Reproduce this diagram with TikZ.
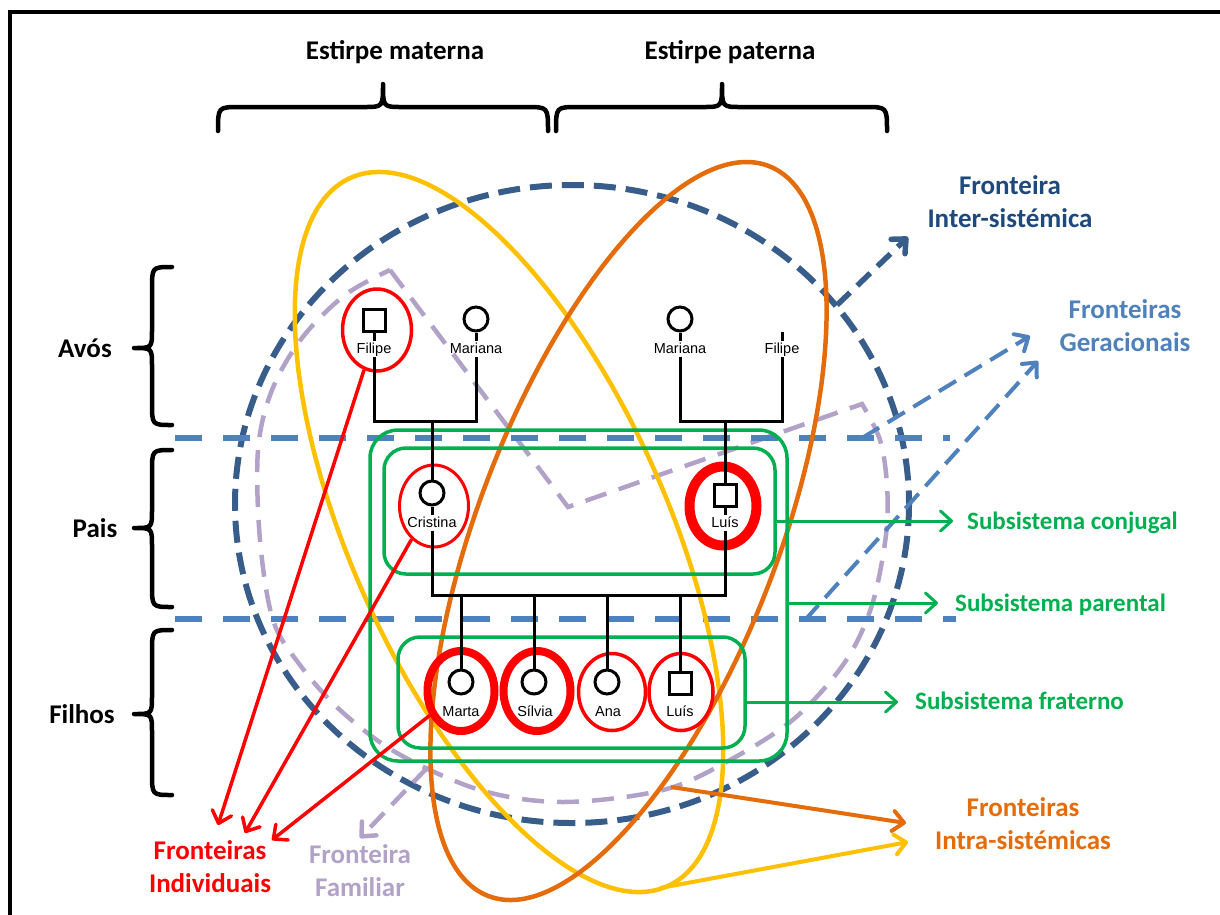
\documentclass[tikz,border=0pt]{standalone}
\usepackage{fontspec}
\setmainfont{Carlito}
\newfontfamily\arialf{Liberation Sans}
\usetikzlibrary{arrows.meta,shapes.geometric}
\definecolor{cyel}{RGB}{255,192,0}
\definecolor{cora}{RGB}{228,108,10}
\definecolor{cdb}{RGB}{56,93,138}
\definecolor{cgen}{RGB}{79,129,189}
\definecolor{clav}{RGB}{179,162,199}
\definecolor{cgrn}{RGB}{0,176,80}
\definecolor{cred}{RGB}{255,0,0}
\definecolor{cinter}{RGB}{31,73,125}
\tikzset{
  lab/.style={font=\bfseries\fontsize{27}{33}\selectfont, align=center, inner sep=0pt},
  glab/.style={font=\bfseries\fontsize{25}{30}\selectfont, text=cgrn, inner sep=0pt, anchor=base west},
  bracepath/.style={line width=4.5, line cap=round, line join=round},
  nm/.style={font=\arialf\fontsize{14.5}{16}\selectfont, inner sep=1pt, text height=10.5pt, text depth=2.5pt},
  fem/.style={circle, draw, line width=3, minimum size=24pt, inner sep=0pt},
  male/.style={rectangle, draw, line width=3, minimum size=22pt, inner sep=0pt},
  gl/.style={line width=3, black},
  gbox/.style={draw=cgrn, line width=3.5, inner sep=0pt},
  rell/.style={ellipse, draw=cred, inner sep=0pt},
  tip/.style={-{Straight Barb[length=11pt,width=20pt,round]}},
  genl/.style={cgen, line width=6, dash pattern=on 27pt off 21pt},
}
\begin{document}
\begin{tikzpicture}[x=1pt,y=-1pt]
\useasboundingbox (0,0) rectangle (1220,914);
% frame
\draw[line width=3.5] (10,940) -- (10,12) -- (1250,12);

% braces
\draw[bracepath] (218,131) .. controls (218,107) .. (240,107) -- (364,107) .. controls (383,107) .. (383,84) .. controls (383,107) .. (402,107) -- (526,107) .. controls (548,107) .. (548,131);
\draw[bracepath] (556,131) .. controls (556,107) .. (578,107) -- (703,107) .. controls (722,107) .. (722,84) .. controls (722,107) .. (741,107) -- (865,107) .. controls (887,107) .. (887,131);
\draw[bracepath] (172,267) .. controls (152,267) .. (152,289) -- (152,330) .. controls (152,348) .. (134,348) .. controls (152,348) .. (152,366) -- (152,403) .. controls (152,425) .. (172,425);
\draw[bracepath] (172,450) .. controls (152,450) .. (152,472) -- (152,510) .. controls (152,528) .. (134,528) .. controls (152,528) .. (152,546) -- (152,585) .. controls (152,607) .. (172,607);
\draw[bracepath] (172,630) .. controls (152,630) .. (152,652) -- (152,696) .. controls (152,714) .. (134,714) .. controls (152,714) .. (152,732) -- (152,773) .. controls (152,795) .. (172,795);

\node[lab, anchor=base] (em) at (395,59) {Estirpe materna};
\node[lab, anchor=base] (ep) at (730,59) {Estirpe paterna};
\node[lab, anchor=base] (avos) at (85,357) {Avós};
\node[lab, anchor=base] (pais) at (95,537) {Pais};
\node[lab, anchor=base] (filhos) at (82,723) {Filhos};

% inter-systemic boundary
\draw[cdb, line width=6, dash pattern=on 22pt off 10pt] (572,504) ellipse [x radius=337, y radius=319];

% family boundary
\draw[clav, line width=4.5, dash pattern=on 22pt off 13pt] (390,270) -- (568,507) -- (862,404) -- plot[smooth, tension=0.55] coordinates {(862,404) (880,440) (887,485) (886,535) (872,605) (845,662) (795,718) (730,760) (663,790) (563,802) (480,790) (397,753) (340,710) (300,665) (273,620) (260,540) (258,450) (272,390) (302,338) (345,295) (390,270)};

% generational boundaries
\coordinate (gA1) at (175,438);
\coordinate (gA2) at (950,438);
\coordinate (gB1) at (175,619);
\coordinate (gB2) at (956,619);
\draw[genl] (gA1) -- (gA2);
\draw[genl] (gB1) -- (gB2);

% lineage ellipses
\draw[cyel, line width=4.5, rotate around={-65.9:(509,532)}] (509,532) ellipse [x radius=388, y radius=158];
\draw[cora, line width=4.5, rotate around={69:(628.5,531)}] (628.5,531) ellipse [x radius=391, y radius=150];

% subsystems
\node[gbox, rounded corners=28pt, minimum width=417pt, minimum height=331pt] (par) at (578.5,595.5) {};
\node[gbox, rounded corners=22pt, minimum width=391pt, minimum height=126pt] (conj) at (579.5,511) {};
\node[gbox, rounded corners=22pt, minimum width=347pt, minimum height=111pt] (frat) at (571.5,692.5) {};

% individual boundaries
\node[rell, line width=3.5, minimum width=69pt, minimum height=82pt] (efil) at (377,330) {};
\node[rell, line width=3, minimum width=69pt, minimum height=82pt] (ecri) at (434,506) {};
\node[rell, line width=10, minimum width=67pt, minimum height=79pt] (elui) at (723,506) {};
\node[rell, line width=8, minimum width=67pt, minimum height=80pt] (emar) at (461,691) {};
\node[rell, line width=8, minimum width=67pt, minimum height=80pt] (esil) at (537,691) {};
\node[rell, line width=3.5, minimum width=67pt, minimum height=77pt] (eana) at (612,692) {};
\node[rell, line width=3.5, minimum width=64pt, minimum height=77pt] (eluc) at (681,692) {};

% genogram
\node[male] (g1) at (374,320) {};
\node[nm] (g1l) at (374,349) {Filipe};
\node[fem] (g2) at (476,319) {};
\node[nm] (g2l) at (476,349) {Mariana};
\node[fem] (g3) at (680,319) {};
\node[nm] (g3l) at (680,349) {Mariana};
\coordinate (g4s) at (782,332);
\node[nm] (g4l) at (782,349) {Filipe};
\draw[gl] (g1.south) -- (g1l.north);
\draw[gl] (g2.south) -- (g2l.north);
\draw[gl] (g3.south) -- (g3l.north);
\draw[gl] (g4s) -- (g4l.north);
\coordinate (m1) at (432,421);
\coordinate (m2) at (725,421);
\draw[gl] (g1l.south) |- (m1) -| (g2l.south);
\draw[gl] (g3l.south) |- (m2) -| (g4l.south);

\node[fem] (cri) at (432,493) {};
\node[nm] (cril) at (432,523) {Cristina};
\node[male] (lui) at (725,495) {};
\node[nm] (luil) at (725,523) {Luís};
\draw[gl] (m1) -- (cri.north);
\draw[gl] (m2) -- (lui.north);
\draw[gl] (cri.south) -- (cril.north);
\draw[gl] (lui.south) -- (luil.north);
\coordinate (sb) at (580,595);
\draw[gl] (cril.south) |- (sb) -| (luil.south);

\node[fem] (c1) at (461,682) {};
\node[nm] (c1l) at (461,712) {Marta};
\node[fem] (c2) at (534,682) {};
\node[nm] (c2l) at (535,712) {Sílvia};
\node[fem] (c3) at (607,682) {};
\node[nm] (c3l) at (608,712) {Ana};
\node[male] (c4) at (680,683) {};
\node[nm] (c4l) at (680,712) {Luís};
\draw[gl] (c1.north |- sb) -- (c1.north);
\draw[gl] (c2.north |- sb) -- (c2.north);
\draw[gl] (c3.north |- sb) -- (c3.north);
\draw[gl] (c4.north |- sb) -- (c4.north);

% labels
\node[lab, text=cinter] (linter) at (1010,202) {Fronteira\\Inter-sistémica};
\node[lab, text=cgen] (lgerac) at (1125,326) {Fronteiras\\Geracionais};
\node[glab] (lconj) at (967,529) {Subsistema conjugal};
\node[glab] (lpar) at (955,611) {Subsistema parental};
\node[glab] (lfrat) at (915,709) {Subsistema fraterno};
\node[lab, text=cora] (lintra) at (1023,824) {Fronteiras\\Intra-sistémicas};
\node[lab, text=cred] (lindiv) at (210,867) {Fronteiras\\Individuais};
\node[lab, text=clav] (lfam) at (360,871) {Fronteira\\Familiar};

% arrows
\coordinate (pInter) at (837,305);
\coordinate (tInter) at (908,237);
\draw[tip, cdb, line width=5.5, dash pattern=on 18pt off 10pt] (pInter) -- (tInter);
\coordinate (pGer1) at (862,438);
\coordinate (tGer1) at (1030,336);
\coordinate (pGer2) at (805,620);
\coordinate (tGer2) at (1038,361);
\draw[tip, cgen, line width=4, dash pattern=on 20pt off 10pt] (pGer1) -- (tGer1);
\draw[tip, cgen, line width=4, dash pattern=on 20pt off 10pt] (pGer2) -- (tGer2);

\coordinate (tConj) at (953,521);
\coordinate (tPar) at (938,603);
\coordinate (tFrat) at (898,702);
\draw[tip, cgrn, line width=3] (conj.east |- tConj) -- (tConj);
\draw[tip, cgrn, line width=3] (par.east |- tPar) -- (tPar);
\draw[tip, cgrn, line width=3] (frat.east |- tFrat) -- (tFrat);

\coordinate (tR1) at (218,825);
\coordinate (tR2) at (245,833);
\coordinate (tR3) at (272,840);
\draw[tip, cred, line width=3.5] (efil.252) -- (tR1);
\draw[tip, cred, line width=3.5] (ecri.236) -- (tR2);
\draw[tip, cred, line width=3.5] (emar.218) -- (tR3);

\coordinate (pFam) at (427,768);
\coordinate (tFam) at (360,838);
\draw[tip, clav, line width=4.5, dash pattern=on 20pt off 11pt] (pFam) -- (tFam);

\coordinate (pOra) at (671,787);
\coordinate (tOra) at (906,823);
\draw[tip, cora, line width=4] (pOra) -- (tOra);
\coordinate (pYel) at (660,888);
\coordinate (tYel) at (908,842);
\draw[tip, cyel, line width=4] (pYel) -- (tYel);
\end{tikzpicture}
\end{document}
